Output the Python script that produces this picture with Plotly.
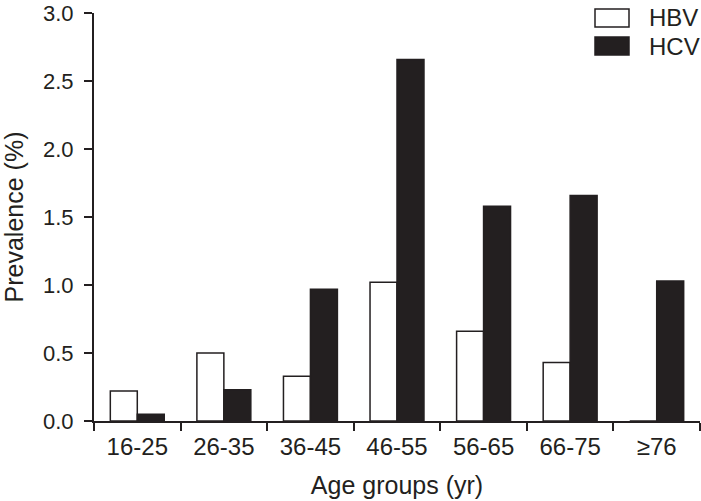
import plotly.graph_objects as go

age_groups = ["16-25", "26-35", "36-45", "46-55", "56-65", "66-75", "≥76"]
hbv = [0.22, 0.50, 0.33, 1.02, 0.66, 0.43, 0]
hcv = [0.05, 0.23, 0.97, 2.66, 1.58, 1.66, 1.03]
y_ticks = [0, 0.5, 1.0, 1.5, 2.0, 2.5, 3.0]

INK = "#231f20"
FONT = dict(family="Liberation Sans, Arial, sans-serif", size=24, color=INK)

TOP, BOTTOM, LEFT, RIGHT = 13, 421, 94, 700
PH = BOTTOM - TOP
PW = RIGHT - LEFT

fig = go.Figure()
fig.add_trace(go.Bar(x=age_groups, y=hbv, name="HBV",
                     marker=dict(color="white", line=dict(color=INK, width=1.5))))
fig.add_trace(go.Bar(x=age_groups, y=hcv, name="HCV",
                     marker=dict(color=INK, line=dict(color=INK, width=1.5))))

fig.update_layout(
    width=701, height=501,
    margin=dict(l=LEFT, r=701 - RIGHT, t=TOP, b=501 - BOTTOM),
    paper_bgcolor="white", plot_bgcolor="white",
    font=FONT,
    showlegend=False,
    barmode="group", bargap=0.377, bargroupgap=0,
)
fig.update_xaxes(
    showline=True, linecolor=INK, linewidth=2,
    ticks="outside", ticklen=8, tickwidth=2, tickcolor=INK,
    tickson="boundaries", showgrid=False, automargin=False,
    ticklabelstandoff=3,
    title=dict(text="Age groups (yr)", standoff=18, font=dict(size=25)),
)
fig.update_yaxes(
    range=[0, 3.002], tickvals=y_ticks, tickformat=".1f",
    showline=True, linecolor=INK, linewidth=2,
    ticks="outside", ticklen=8, tickwidth=2, tickcolor=INK,
    showgrid=False, zeroline=False, automargin=False,
    tickfont=dict(size=22),
    ticklabelstandoff=6, ticklabeloverflow="allow",
    title=dict(text="Prevalence (%)", standoff=23, font=dict(size=25)),
)

# legend drawn as boxes + labels to match the large swatches
for i, (name, fill) in enumerate([("HBV", "white"), ("HCV", INK)]):
    fig.add_shape(type="rect", xref="paper", yref="paper",
                  x0=(595 - LEFT) / PW, x1=(629 - LEFT) / PW,
                  y0=(BOTTOM - 27 - i * 28) / PH, y1=(BOTTOM - 9 - i * 28) / PH,
                  fillcolor=fill, line=dict(color=INK, width=1.5))
    fig.add_annotation(xref="paper", yref="paper", x=(647 - LEFT) / PW,
                       y=(BOTTOM - 18 - i * 28) / PH, text=name, showarrow=False,
                       xanchor="left", yanchor="middle", font=FONT)

fig.write_html("out.html", config={"displayModeBar": False},
               post_script="document.body.style.margin='0';")
